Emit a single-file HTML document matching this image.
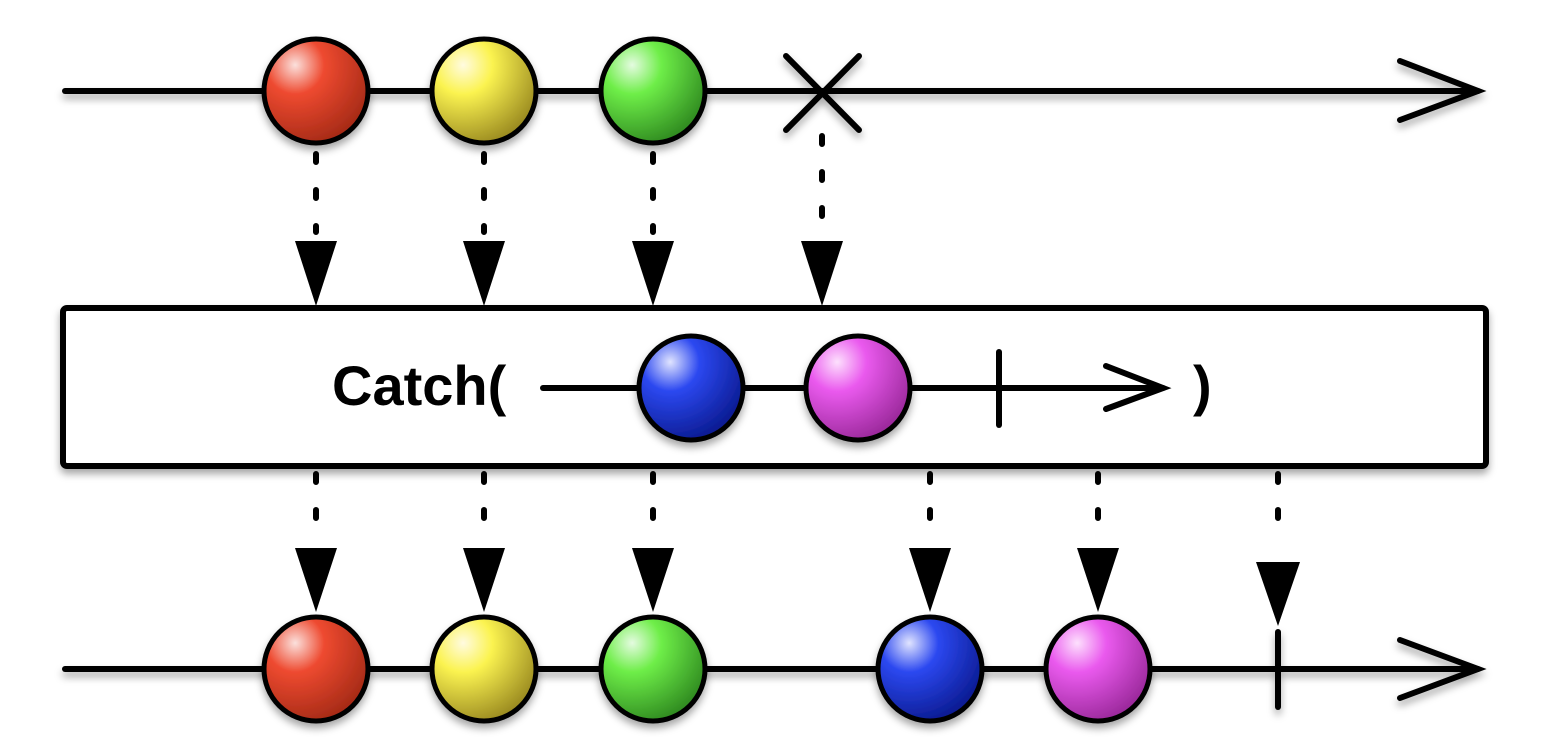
<!DOCTYPE html>
<html><head><meta charset="utf-8"><style>
html,body{margin:0;padding:0;background:#fff;width:1558px;height:754px;overflow:hidden}
</style></head><body>
<svg width="1558" height="754" viewBox="0 0 1558 754" xmlns="http://www.w3.org/2000/svg">
<defs>
<radialGradient id="gr" cx="0.3" cy="0.25" r="0.8"><stop offset="0" stop-color="#fbe0dc"/><stop offset="0.35" stop-color="#ee4a30"/><stop offset="1" stop-color="#a52a16"/></radialGradient>
<radialGradient id="gy" cx="0.3" cy="0.25" r="0.8"><stop offset="0" stop-color="#fffbe0"/><stop offset="0.35" stop-color="#fbf350"/><stop offset="1" stop-color="#9a8a20"/></radialGradient>
<radialGradient id="gg" cx="0.3" cy="0.25" r="0.8"><stop offset="0" stop-color="#e4fbe0"/><stop offset="0.35" stop-color="#6eee48"/><stop offset="1" stop-color="#2f8a20"/></radialGradient>
<radialGradient id="gb" cx="0.3" cy="0.25" r="0.8"><stop offset="0" stop-color="#e0e4ff"/><stop offset="0.35" stop-color="#2c48f0"/><stop offset="1" stop-color="#0a1a90"/></radialGradient>
<radialGradient id="gm" cx="0.3" cy="0.25" r="0.8"><stop offset="0" stop-color="#fde0fd"/><stop offset="0.35" stop-color="#ea5aee"/><stop offset="1" stop-color="#9a289a"/></radialGradient>
<filter id="sh" x="-10%" y="-10%" width="120%" height="130%"><feDropShadow dx="0" dy="5" stdDeviation="4" flood-color="#000" flood-opacity="0.35"/></filter>
</defs>
<g stroke="#000" stroke-width="6" stroke-linecap="round" fill="none" filter="url(#sh)">
<!-- top line -->
<line x1="65" y1="91" x2="1478" y2="91"/>
<polyline points="1400,61 1478,91 1400,120"/>
<line x1="786" y1="56" x2="859" y2="130"/>
<line x1="859" y1="56" x2="786" y2="130"/>
<!-- bottom line -->
<line x1="65" y1="669" x2="1478" y2="669"/>
<polyline points="1400,640 1478,669 1400,698"/>
<line x1="1278" y1="632" x2="1278" y2="707"/>
</g>
<g stroke="#000" stroke-width="5" filter="url(#sh)">
<circle cx="316" cy="91" r="52" fill="url(#gr)"/>
<circle cx="484" cy="91" r="52" fill="url(#gy)"/>
<circle cx="653" cy="91" r="52" fill="url(#gg)"/>
<circle cx="316" cy="669" r="52" fill="url(#gr)"/>
<circle cx="484" cy="669" r="52" fill="url(#gy)"/>
<circle cx="653" cy="669" r="52" fill="url(#gg)"/>
<circle cx="930" cy="669" r="52" fill="url(#gb)"/>
<circle cx="1098" cy="669" r="52" fill="url(#gm)"/>
</g>
<!-- dotted connectors -->
<g stroke="#000" stroke-width="6" stroke-linecap="round" stroke-dasharray="8 28" fill="none">
<line x1="316" y1="154" x2="316" y2="232"/>
<line x1="484" y1="154" x2="484" y2="232"/>
<line x1="653" y1="154" x2="653" y2="232"/>
<line x1="822" y1="136" x2="822" y2="242"/>
<line x1="316" y1="474" x2="316" y2="545"/>
<line x1="484" y1="474" x2="484" y2="545"/>
<line x1="653" y1="474" x2="653" y2="545"/>
<line x1="930" y1="474" x2="930" y2="545"/>
<line x1="1098" y1="474" x2="1098" y2="545"/>
<line x1="1278" y1="474" x2="1278" y2="545"/>
</g>
<g fill="#000">
<polygon points="295,241 337,241 316,306"/>
<polygon points="463,241 505,241 484,306"/>
<polygon points="632,241 674,241 653,306"/>
<polygon points="801,241 843,241 822,306"/>
<polygon points="295,548 337,548 316,612"/>
<polygon points="463,548 505,548 484,612"/>
<polygon points="632,548 674,548 653,612"/>
<polygon points="909,548 951,548 930,612"/>
<polygon points="1077,548 1119,548 1098,612"/>
<polygon points="1256,562 1300,562 1278,626"/>
</g>
<!-- box -->
<rect x="63" y="308" width="1423" height="158" rx="4" fill="#fff" stroke="#000" stroke-width="6" filter="url(#sh)"/>
<text x="332" y="405" font-family="Liberation Sans, sans-serif" font-weight="bold" font-size="56">Catch(</text>
<text x="1193" y="405" font-family="Liberation Sans, sans-serif" font-weight="bold" font-size="56">)</text>
<g stroke="#000" stroke-width="6" stroke-linecap="round" fill="none">
<line x1="543" y1="388" x2="1163" y2="388"/>
<polyline points="1106,366 1163,388 1106,409"/>
<line x1="999" y1="352" x2="999" y2="425"/>
</g>
<g stroke="#000" stroke-width="5" filter="url(#sh)">
<circle cx="691" cy="388" r="52" fill="url(#gb)"/>
<circle cx="858" cy="388" r="52" fill="url(#gm)"/>
</g>
</svg>
</body></html>
